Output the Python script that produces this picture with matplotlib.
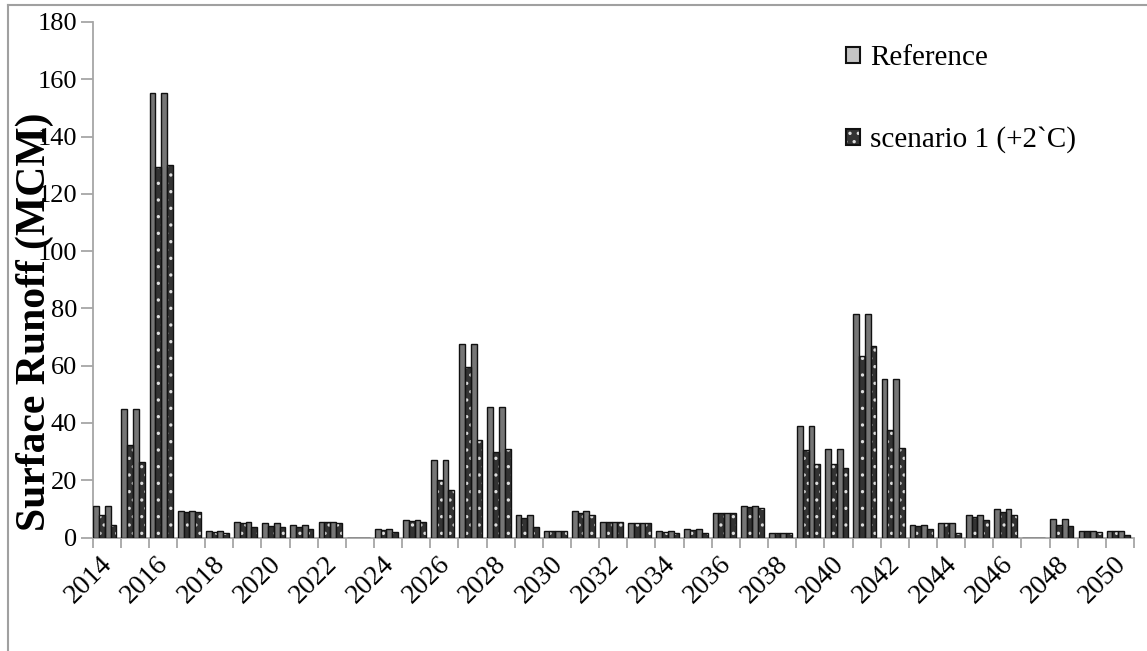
import numpy as np
from matplotlib import pyplot as plt
from matplotlib.patches import Patch
from matplotlib.lines import Line2D
from matplotlib.legend_handler import HandlerTuple
from matplotlib.transforms import ScaledTranslation

plt.rcParams['font.family'] = ['Liberation Serif', 'DejaVu Serif']
plt.rcParams['hatch.linewidth'] = 1.2

years = list(range(2014, 2051))
# two reference bars (same values) and two scenario bars per year
reference = [11.0, 44.7, 155.3, 9.3, 2.3, 5.4, 5.1, 4.4, 5.4, 0.0,
             2.8, 6.0, 27.2, 67.5, 45.5, 7.8, 2.4, 9.3, 5.4, 5.1,
             2.3, 2.8, 8.7, 11.0, 1.7, 38.8, 30.8, 77.9, 55.5, 4.2,
             5.2, 7.8, 9.8, 0.0, 6.6, 2.3, 2.4]
scenario_a = [8.0, 32.2, 129.4, 9.0, 2.0, 5.0, 4.0, 3.5, 5.4, 0.0,
              2.5, 5.8, 20.0, 59.6, 29.9, 6.7, 2.4, 8.4, 5.4, 5.0,
              2.0, 2.5, 8.7, 10.5, 1.7, 30.5, 25.8, 63.3, 37.5, 4.0,
              5.0, 7.0, 9.0, 0.0, 4.5, 2.2, 2.2]
scenario_b = [4.3, 26.2, 130.2, 9.0, 1.6, 3.5, 3.5, 3.0, 5.0, 0.0,
              2.0, 5.5, 16.5, 34.0, 31.0, 3.7, 2.3, 7.8, 5.4, 5.0,
              1.6, 1.6, 8.4, 10.3, 1.7, 25.6, 24.3, 67.0, 31.4, 3.1,
              1.6, 6.0, 8.0, 0.0, 4.0, 2.0, 1.0]
yticks = list(range(0, 181, 20))

W, H = 1147, 651
fig = plt.figure(figsize=(W / 100, H / 100), dpi=100)
ax = fig.add_axes([92.5 / W, 113.5 / H, (1134 - 92.5) / W, (629 - 113.5) / H])

n = len(years)
idx = np.arange(n)
bw = 0.205
start = 0.03
ref_face = '#767676'
dot_face = '#333333'


def draw_ref(xpos, vals):
    ax.bar(xpos, vals, width=bw, align='edge', color=ref_face,
           edgecolor='#111111', linewidth=1.0, zorder=3)


def draw_dots(xpos, vals):
    ax.bar(xpos, vals, width=bw, align='edge', color=dot_face,
           edgecolor='#dddddd', hatch='..', linewidth=0, zorder=3)
    ax.bar(xpos, vals, width=bw, align='edge', fill=False,
           edgecolor='#111111', linewidth=1.0, zorder=4)


draw_ref(idx + start, reference)
draw_dots(idx + start + bw, scenario_a)
draw_ref(idx + start + 2 * bw, reference)
draw_dots(idx + start + 3 * bw, scenario_b)

ax.set_xlim(0, n)
ax.set_ylim(0, 180)
ax.set_yticks(yticks)
ax.tick_params(axis='y', direction='out', length=9, width=1.3,
               color='#a6a6a6', labelsize=19, pad=2)

ax.set_xticks(np.arange(0, n + 1), minor=True)
ax.set_xticks(idx[::2] + 0.5)
ax.set_xticklabels([str(y) for y in years[::2]], rotation=45, ha='right',
                   rotation_mode='anchor')
ax.tick_params(axis='x', which='major', length=0, labelsize=20, pad=10)
ax.tick_params(axis='x', which='minor', direction='out', length=7,
               width=1.3, color='#a6a6a6')
shift = ScaledTranslation(-0.07, 0, fig.dpi_scale_trans)
for lab in ax.get_xticklabels():
    lab.set_transform(lab.get_transform() + shift)

for side in ['top', 'right']:
    ax.spines[side].set_visible(False)
for side in ['left', 'bottom']:
    ax.spines[side].set_color('#a6a6a6')
    ax.spines[side].set_linewidth(1.3)

fig.text(35 / W, 1 - 322 / H, 'Surface Runoff (MCM)', rotation=90,
         fontsize=30, fontweight='bold', ha='center', va='center')

h_ref = Patch(facecolor='#c4c4c4', edgecolor='#111111', linewidth=1.5)
h_dot = (Patch(facecolor=dot_face, edgecolor='#dddddd', hatch='..', linewidth=0),
         Patch(fill=False, edgecolor='#111111', linewidth=1.5))
fig.legend([h_ref, h_dot], ['Reference', 'scenario 1 (+2`C)'],
           handler_map={tuple: HandlerTuple(ndivide=1, pad=0)},
           loc='upper left', bbox_to_anchor=(846 / W, 1 - 45 / H),
           frameon=False, fontsize=21, handlelength=0.48, handleheight=0.48,
           handletextpad=0.35, labelspacing=1.9, borderpad=0,
           borderaxespad=0)

# outer frame of the cropped figure
fig.add_artist(Line2D([8 / W, 8 / W], [0, 1 - 5 / H], color='#a0a0a0', lw=1.5))
fig.add_artist(Line2D([8 / W, 1], [1 - 5 / H, 1 - 5 / H], color='#a0a0a0', lw=1.5))

fig.savefig('out.png', dpi=100)
